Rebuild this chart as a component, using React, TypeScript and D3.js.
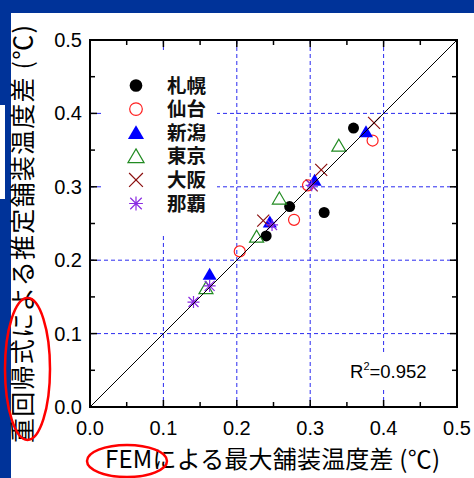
import React from "react";
import * as d3 from "d3";

const W = 474;
const H = 478;

const cities = ["札幌", "仙台", "新潟", "東京", "大阪", "那覇"];
const sapporo: [number, number][] = [[0.359, 0.380], [0.272, 0.273], [0.319, 0.265], [0.240, 0.233]];
const sendai: [number, number][] = [[0.385, 0.363], [0.278, 0.255], [0.204, 0.212], [0.297, 0.302]];
const niigata: [number, number][] = [[0.376, 0.375], [0.306, 0.309], [0.245, 0.252], [0.163, 0.181]];
const tokyo: [number, number][] = [[0.339, 0.356], [0.258, 0.284], [0.227, 0.232], [0.158, 0.162]];
const osaka: [number, number][] = [[0.387, 0.387], [0.315, 0.323], [0.302, 0.302], [0.236, 0.254]];
const naha: [number, number][] = [[0.302, 0.302], [0.248, 0.248], [0.141, 0.143], [0.163, 0.165]];
const seriesData = [sapporo, sendai, niigata, tokyo, osaka, naha];
const markerKinds = ["dot", "circle", "tri", "otri", "cross", "star"];

const majorTicks = [0, 0.1, 0.2, 0.3, 0.4, 0.5];
const minorTicks = [0.05, 0.15, 0.25, 0.35, 0.45];
const gridTicks = [0.1, 0.2, 0.3, 0.4];
const tickLabels = ["0.0", "0.1", "0.2", "0.3", "0.4", "0.5"];
const r2Text = "=0.952";
const xTitle = "FEMによる最大舗装温度差 (℃)";
const yTitle = "重回帰式による推定舗装温度差 (℃)";

const CJK = "'Noto Sans CJK JP', 'Noto Sans', sans-serif";
const SANS = "'Liberation Sans', Arial, sans-serif";

function Marker({ kind, cx, cy, s = 1 }: { kind: string; cx: number; cy: number; s?: number }) {
  const r = 5.5 * s;
  switch (kind) {
    case "dot":
      return <circle cx={cx} cy={cy} r={r} fill="#000" />;
    case "circle":
      return <circle cx={cx} cy={cy} r={r} fill="none" stroke="#ff2020" strokeWidth={1.2} />;
    case "tri": {
      const h = 6.5 * s;
      return <path d={`M${cx},${cy - h}L${cx + 7 * s},${cy + 5.5 * s}L${cx - 7 * s},${cy + 5.5 * s}Z`} fill="#0000ff" />;
    }
    case "otri": {
      const h = 6.5 * s;
      return <path d={`M${cx},${cy - h}L${cx + 7 * s},${cy + 5.5 * s}L${cx - 7 * s},${cy + 5.5 * s}Z`} fill="none" stroke="#228b22" strokeWidth={1.2} />;
    }
    case "cross": {
      const a = 6 * s;
      return <path d={`M${cx - a},${cy - a}L${cx + a},${cy + a}M${cx - a},${cy + a}L${cx + a},${cy - a}`} stroke="#8b1010" strokeWidth={1.2} />;
    }
    case "star": {
      const a = 6 * s;
      const b = 5 * s;
      return <path d={`M${cx - a},${cy}L${cx + a},${cy}M${cx},${cy - a}L${cx},${cy + a}M${cx - b},${cy - b}L${cx + b},${cy + b}M${cx - b},${cy + b}L${cx + b},${cy - b}`} stroke="#8a2be2" strokeWidth={1.2} />;
    }
  }
  return null;
}

export default function App() {
  const x = d3.scaleLinear().domain([0, 0.5]).range([90, 457]);
  const y = d3.scaleLinear().domain([0, 0.5]).range([407, 40]);
  const [x0, x1] = x.range();
  const [y0, y1] = y.range();
  const grid = "#2a2af0";

  return (
    <svg width={W} height={H} style={{ position: "absolute", left: 0, top: 0, background: "#fff" }}>
      {/* slide background */}
      <rect x={0} y={0} width={W} height={13} fill="#003399" />
      <rect x={0} y={0} width={11} height={H} fill="#003399" />
      <rect x={0} y={105} width={5} height={94} fill="#fff" />

      {/* grid */}
      {gridTicks.map((t) => (
        <g key={"g" + t}>
          <line x1={x(t)} x2={x(t)} y1={y1} y2={y0} stroke={grid} strokeWidth={1} strokeDasharray="4,3" />
          <line x1={x0} x2={x1} y1={y(t)} y2={y(t)} stroke={grid} strokeWidth={1} strokeDasharray="4,3" />
        </g>
      ))}

      {/* legend background */}
      <rect x={102} y={50} width={115} height={186} fill="#fff" />
      {/* R2 background */}
      <rect x={348} y={352} width={82} height={38} fill="#fff" />

      {/* data */}
      {seriesData.map((ser, i) => (
        <g key={"s" + i}>
          {ser.map((d, j) => (
            <Marker key={j} kind={markerKinds[i]} cx={x(d[0])} cy={y(d[1])} />
          ))}
        </g>
      ))}

      {/* 1:1 line */}
      <line x1={x(0)} y1={y(0)} x2={x(0.5)} y2={y(0.5)} stroke="#000" strokeWidth={1} />

      {/* ticks */}
      {majorTicks.map((t) => (
        <g key={"M" + t} stroke="#000" strokeWidth={1.5}>
          <line x1={x(t)} x2={x(t)} y1={y0} y2={y0 - 7} />
          <line x1={x(t)} x2={x(t)} y1={y1} y2={y1 + 7} />
          <line x1={x0} x2={x0 + 7} y1={y(t)} y2={y(t)} />
          <line x1={x1} x2={x1 - 7} y1={y(t)} y2={y(t)} />
        </g>
      ))}
      {minorTicks.map((t) => (
        <g key={"m" + t} stroke="#000" strokeWidth={1.5}>
          <line x1={x(t)} x2={x(t)} y1={y0} y2={y0 - 5} />
          <line x1={x(t)} x2={x(t)} y1={y1} y2={y1 + 5} />
          <line x1={x0} x2={x0 + 5} y1={y(t)} y2={y(t)} />
          <line x1={x1} x2={x1 - 5} y1={y(t)} y2={y(t)} />
        </g>
      ))}

      {/* frame */}
      <rect x={x0} y={y1} width={x1 - x0} height={y0 - y1} fill="none" stroke="#000" strokeWidth={2} />

      {/* tick labels */}
      {majorTicks.map((t, i) => (
        <text key={"xl" + t} x={x(t)} y={435} textAnchor="middle" fontFamily={SANS} fontSize={20} fill="#000">
          {tickLabels[i]}
        </text>
      ))}
      {majorTicks.map((t, i) => (
        <text key={"yl" + t} x={82} y={y(t) + 7} textAnchor="end" fontFamily={SANS} fontSize={20} fill="#000">
          {tickLabels[i]}
        </text>
      ))}

      {/* legend */}
      {cities.map((c, i) => {
        const cy = 85.5 + i * 23.6;
        return (
          <g key={"lg" + c}>
            <Marker kind={markerKinds[i]} cx={136} cy={cy} s={1.15} />
            <text x={167} y={cy + 7} fontFamily={CJK} fontSize={19.5} fontWeight="bold" fill="#111">
              {c}
            </text>
          </g>
        );
      })}

      {/* R2 */}
      <text x={350} y={378} fontFamily={SANS} fontSize={18.5} fill="#000">
        R<tspan dy={-8} fontSize={11}>2</tspan>
        <tspan dy={8}>{r2Text}</tspan>
      </text>

      {/* axis titles */}
      <text x={105} y={468} fontFamily={CJK} fontSize={24} fill="#000" textLength={335} lengthAdjust="spacing">
        {xTitle}
      </text>
      <text
        transform="translate(32,443) rotate(-90)"
        x={0}
        y={0}
        fontFamily={CJK}
        fontSize={25}
        fill="#000"
        textLength={418}
        lengthAdjust="spacing"
      >
        {yTitle}
      </text>

      {/* red annotation ellipses */}
      <ellipse cx={127} cy={461} rx={40} ry={16} fill="none" stroke="#ff0000" strokeWidth={2.5} />
      <ellipse cx={27.5} cy={369} rx={22.5} ry={71} fill="none" stroke="#ff0000" strokeWidth={2.5} />
    </svg>
  );
}
